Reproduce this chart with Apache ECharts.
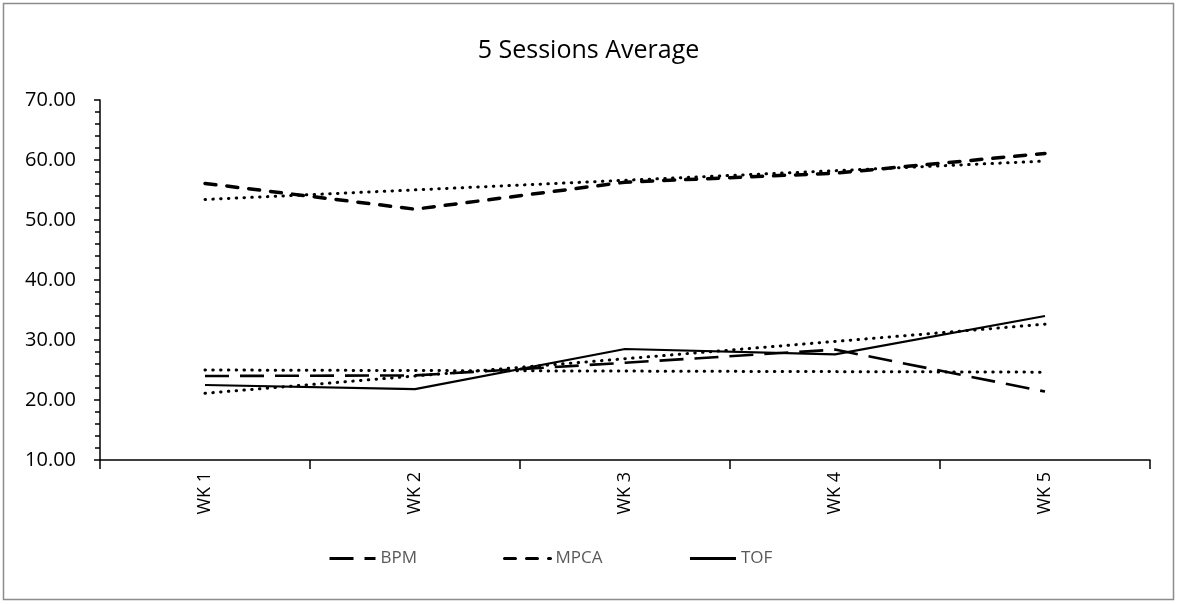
<!DOCTYPE html>
<html>
<head>
<meta charset="utf-8">
<script src="https://cdn.jsdelivr.net/npm/echarts@6/dist/echarts.min.js"></script>
<style>
html,body{margin:0;padding:0;background:#fff;}
#chart{width:1177px;height:604px;}
</style>
</head>
<body>
<div id="chart"></div>
<script>
// ---- data ----
const categories = ['WK 1', 'WK 2', 'WK 3', 'WK 4', 'WK 5'];
const seriesNames = ['BPM', 'MPCA', 'TOF'];
const bpm  = [24.0, 24.1, 26.2, 28.4, 21.4];
const mpca = [56.1, 51.8, 56.3, 57.8, 61.1];
const tof  = [22.5, 21.8, 28.5, 27.6, 34.0];
const yTicks = { min: 10, max: 70, interval: 10 };

// linear trendline (least squares) of a series, as in the original chart
function trend(values) {
  const n = values.length;
  const xs = values.map((_, i) => i + 1);
  const mx = xs.reduce((a, b) => a + b, 0) / n;
  const my = values.reduce((a, b) => a + b, 0) / n;
  let sxy = 0, sxx = 0;
  for (let i = 0; i < n; i++) { sxy += (xs[i] - mx) * (values[i] - my); sxx += (xs[i] - mx) ** 2; }
  const b = sxy / sxx, a = my - b * mx;
  return xs.map(x => +(a + b * x).toFixed(3));
}

const FONT = 'Open Sans';
const chart = echarts.init(document.getElementById('chart'), null, { renderer: 'canvas' });

const dotted = { color: '#000', width: 3, type: [0.5, 7.3], cap: 'round' };
function trendSeries(vals) {
  return {
    type: 'line', data: trend(vals), symbol: 'none', silent: true,
    lineStyle: dotted, z: 1, legendHoverLink: false
  };
}
const noMark = { color: 'rgba(0,0,0,0)' };

chart.setOption({
  animation: false,
  backgroundColor: '#fff',
  title: {
    text: '5 Sessions Average', left: 'center', top: 33,
    textStyle: { fontFamily: FONT, fontSize: 25, fontWeight: 'normal', color: '#000' }
  },
  graphic: [{
    type: 'rect', shape: { x: 3.5, y: 3.5, width: 1170, height: 596 },
    style: { fill: 'none', stroke: '#8c8c8c', lineWidth: 1.5 }, silent: true, z: -1
  }],
  legend: {
    data: seriesNames, left: 323, top: 545, itemWidth: 46, itemHeight: 14, itemGap: 86,
    itemStyle: { opacity: 0 },
    lineStyle: { width: 3 },
    textStyle: { fontFamily: FONT, fontSize: 17, color: '#595959' }
  },
  grid: { left: 100, right: 27, top: 100, bottom: 144, containLabel: false },
  xAxis: {
    type: 'category', data: categories, boundaryGap: true,
    axisLine: { lineStyle: { color: '#000', width: 1.5 } },
    axisTick: { show: true, length: 9, lineStyle: { color: '#000', width: 1.5 } },
    axisLabel: { rotate: 90, margin: 12, fontFamily: FONT, fontSize: 18, color: '#000' },
    splitLine: { show: false }
  },
  yAxis: {
    type: 'value', min: yTicks.min, max: yTicks.max, interval: yTicks.interval,
    axisLine: { show: true, lineStyle: { color: '#000', width: 1.5 } },
    axisTick: { show: true, length: 6, lineStyle: { color: '#000', width: 1.5 } },
    minorTick: { show: true, splitNumber: 5, length: 5, lineStyle: { color: '#000', width: 1.5 } },
    axisLabel: { margin: 24, fontFamily: FONT, fontSize: 20, color: '#000', formatter: v => v.toFixed(2) },
    splitLine: { show: false }
  },
  series: [
    trendSeries(bpm), trendSeries(mpca), trendSeries(tof),
    { name: 'BPM', type: 'line', data: bpm, symbol: 'none', z: 2,
      lineStyle: { color: '#000', width: 2.6, type: [24, 11] }, itemStyle: noMark },
    { name: 'MPCA', type: 'line', data: mpca, symbol: 'none', z: 2,
      lineStyle: { color: '#000', width: 3.5, type: [11, 11], cap: 'round' }, itemStyle: noMark },
    { name: 'TOF', type: 'line', data: tof, symbol: 'none', z: 2,
      lineStyle: { color: '#000', width: 2.2 }, itemStyle: noMark }
  ]
});
</script>
</body>
</html>
